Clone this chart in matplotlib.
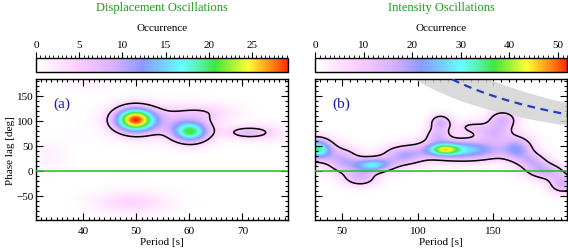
import numpy as np
import matplotlib
matplotlib.use("Agg")
import matplotlib.pyplot as plt
from matplotlib.colors import LinearSegmentedColormap
from matplotlib.ticker import MultipleLocator

plt.rcParams['font.family'] = ['Liberation Serif', 'DejaVu Serif']
plt.rcParams['font.size'] = 8

# ---- data: Gaussian components of the occurrence maps (period [s], phase [deg], widths, amplitude)
a_pcen  = [49.7, 60.2, 70.7, 55.0, 49.0, 33.5, 41.0, 75.0, 63.0]
a_phcen = [103., 78.0, 77.0, 98.0, -63., 30.0, 178., 77.0, 118.]
a_psig  = [2.6, 2.4, 2.8, 6.5, 5.0, 2.5, 3.0, 3.0, 4.0]
a_phsig = [17., 15., 9.0, 22., 16., 20., 12., 14., 12.]
a_amp   = [25., 18., 6.0, 6.0, 4.0, 1.5, 1.5, 2.5, 3.0]

b_pcen  = [33.0, 70.0, 117.0, 130.0, 115.0, 156.0, 166.0, 184.0, 196.0, 50.0, 90.0, 62.0,
           113.0, 150.0, 176.0, 135.0]
b_phcen = [44.0, 12.0, 43.0, 42.0, 98.0, 102.0, 45.0, 0.0, -26.0, 22.0, 30.0, -14.0,
           72.0, 75.0, 20.0, 88.0]
b_psig  = [7.0, 9.0, 7.0, 20.0, 5.0, 7.0, 7.0, 9.0, 7.0, 8.0, 10.0, 8.0,
           6.0, 8.0, 7.0, 8.0]
b_phsig = [15.0, 10.0, 8.0, 15.0, 11.0, 14.0, 18.0, 12.0, 14.0, 18.0, 14.0, 12.0,
           12.0, 12.0, 12.0, 10.0]
b_amp   = [34.0, 27.0, 23.0, 27.0, 15.0, 15.0, 16.0, 15.0, 15.0, 16.0, 16.0, 14.0,
           12.0, 12.0, 12.0, 9.0]

a_xlim = (31.1, 78.7)
b_xlim = (32.0, 199.0)
ylim = (-98.0, 184.0)
a_vmax = 29.2
b_vmax = 52.0
a_level = 5.0
b_level = 9.0
# model curve (dashed) and its band: phase = C / P
curve_C = 22500.0
curve_dC = 4500.0

a_cticks = [0, 5, 10, 15, 20, 25]
b_cticks = [0, 10, 20, 30, 40, 50]

cmap = LinearSegmentedColormap.from_list('occ', [
    (0.00, (1.00, 1.00, 1.00)),
    (0.15, (1.00, 0.82, 1.00)),
    (0.30, (0.86, 0.70, 1.00)),
    (0.42, (0.55, 0.60, 1.00)),
    (0.52, (0.45, 0.85, 1.00)),
    (0.58, (0.40, 1.00, 1.00)),
    (0.64, (0.35, 0.95, 0.70)),
    (0.71, (0.25, 0.90, 0.25)),
    (0.78, (0.65, 0.95, 0.20)),
    (0.84, (1.00, 1.00, 0.20)),
    (0.92, (1.00, 0.60, 0.10)),
    (1.00, (1.00, 0.15, 0.00)),
])

def field(xlim, pc, phc, ps, phs, amp):
    P = np.linspace(xlim[0], xlim[1], 400)
    Y = np.linspace(ylim[0], ylim[1], 300)
    PP, YY = np.meshgrid(P, Y)
    Z = np.zeros_like(PP)
    for c, h, s, t, a in zip(pc, phc, ps, phs, amp):
        Z += a * np.exp(-0.5 * (((PP - c) / s) ** 2 + ((YY - h) / t) ** 2))
    return P, Y, Z

fig = plt.figure(figsize=(5.68, 2.53), dpi=100)

def style(ax, xmaj, xmin):
    ax.xaxis.set_major_locator(MultipleLocator(xmaj))
    ax.xaxis.set_minor_locator(MultipleLocator(xmin))
    ax.yaxis.set_major_locator(MultipleLocator(50))
    ax.yaxis.set_minor_locator(MultipleLocator(10))
    ax.tick_params(which='both', direction='in', top=True, right=True, width=0.8)
    ax.tick_params(which='major', length=5)
    ax.tick_params(which='minor', length=2.5)
    for s in ax.spines.values():
        s.set_linewidth(1.0)

panels = [
    dict(left=0.0634, xlim=a_xlim, comp=(a_pcen, a_phcen, a_psig, a_phsig, a_amp),
         vmax=a_vmax, level=a_level, xmaj=10, xmin=1, lab='(a)', title='Displacement Oscillations',
         cticks=a_cticks, cmin=0.5),
    dict(left=0.5546, xlim=b_xlim, comp=(b_pcen, b_phcen, b_psig, b_phsig, b_amp),
         vmax=b_vmax, level=b_level, xmaj=50, xmin=5, lab='(b)', title='Intensity Oscillations',
         cticks=b_cticks, cmin=1),
]

for i, p in enumerate(panels):
    ax = fig.add_axes([p['left'], 0.1265, 0.4445, 0.5573])
    P, Y, Z = field(p['xlim'], *p['comp'])
    im = ax.imshow(Z, extent=[p['xlim'][0], p['xlim'][1], ylim[0], ylim[1]], origin='lower',
                   aspect='auto', cmap=cmap, vmin=0, vmax=p['vmax'], interpolation='bilinear', zorder=1)
    if i == 1:
        Pc = np.linspace(p['xlim'][0], p['xlim'][1], 300)
        ax.fill_between(Pc, (curve_C - curve_dC) / Pc, (curve_C + curve_dC) / Pc,
                        color='#d4d4d4', alpha=0.85, lw=0, zorder=2)
        ax.plot(Pc, curve_C / Pc, ls=(0, (3.5, 2.5)), color='#1f3fbf', lw=1.6, zorder=4)
    ax.contour(P, Y, Z, levels=[p['level']], colors='k', linewidths=1.1, zorder=3)
    ax.axhline(0, color='#33bb33', lw=1.2, zorder=3)
    ax.set_xlim(p['xlim'])
    ax.set_ylim(ylim)
    style(ax, p['xmaj'], p['xmin'])
    ax.text(0.07, 0.8, p['lab'], transform=ax.transAxes, color='#1c1ca8', fontsize=11, zorder=5)
    ax.set_xlabel('Period [s]', fontsize=8, labelpad=2)
    if i == 0:
        ax.set_ylabel('Phase lag [deg]', fontsize=8, labelpad=1)
        ax.set_yticks([-50, 0, 50, 100, 150])
    else:
        ax.set_yticklabels([])
    ax.tick_params(axis='x', labelsize=8, pad=4)
    ax.tick_params(axis='y', labelsize=8, pad=2)

    cax = fig.add_axes([p['left'], 0.7115, 0.4445, 0.0553])
    cb = fig.colorbar(im, cax=cax, orientation='horizontal', ticklocation='top')
    cb.set_ticks(p['cticks'])
    cax.xaxis.set_minor_locator(MultipleLocator(p['cmin']))
    cax.tick_params(which='major', direction='out', length=4.5, width=0.8, labelsize=8, pad=2)
    cax.tick_params(which='minor', direction='out', length=2.5, width=0.6)
    cb.outline.set_linewidth(1.0)
    fig.text(p['left'] + 0.4445 / 2, 0.889, 'Occurrence', ha='center', va='center', fontsize=8)
    fig.text(p['left'] + 0.4445 / 2, 0.968, p['title'], ha='center', va='center',
             color='#1a9a1a', fontsize=9)

fig.savefig('out.png', dpi=100)
